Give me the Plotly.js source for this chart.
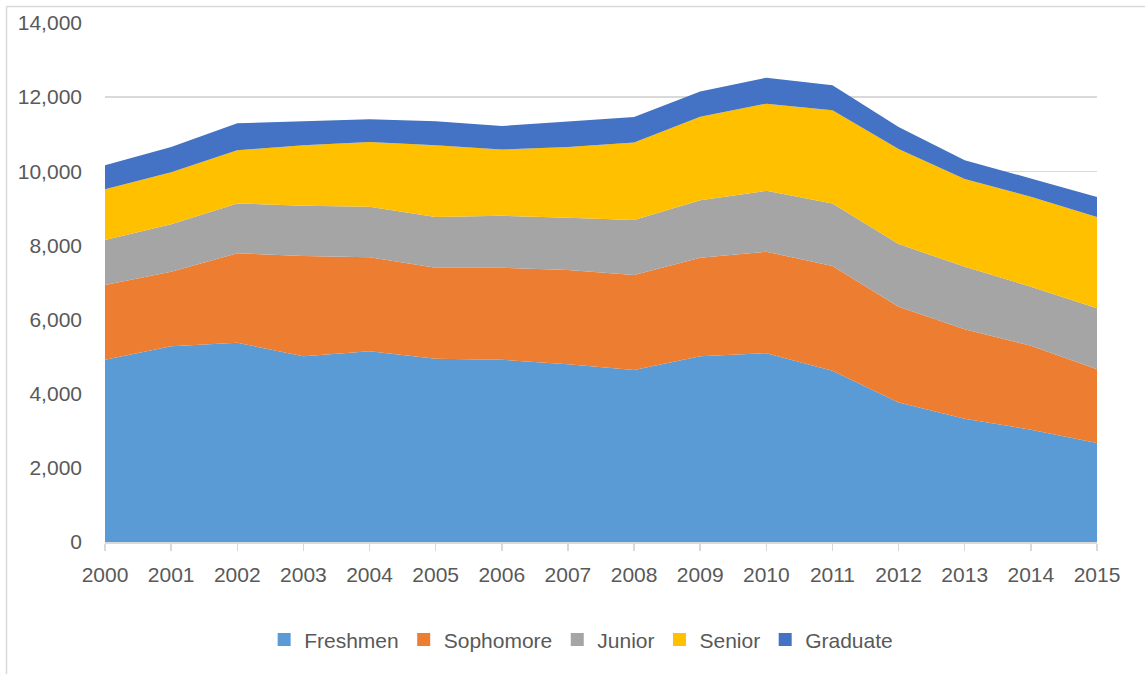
<!DOCTYPE html>
<html>
<head>
<meta charset="utf-8">
<script src="https://cdn.plot.ly/plotly-3.0.1.min.js"></script>
<style>html,body{margin:0;padding:0;background:#fff;}#chart{width:1145px;height:674px;}</style>
</head>
<body>
<div id="chart"></div>
<script>
const years = [2000,2001,2002,2003,2004,2005,2006,2007,2008,2009,2010,2011,2012,2013,2014,2015];
const freshmen  = [4914,5283,5372,5013,5148,4941,4914,4798,4637,5010,5094,4618,3764,3325,3029,2671];
const sophomore = [2019,2008,2415,2701,2531,2459,2486,2539,2565,2658,2736,2827,2585,2415,2262,1992];
const junior    = [1212,1277,1346,1355,1363,1364,1400,1409,1481,1554,1642,1688,1688,1686,1596,1643];
const senior    = [1373,1408,1435,1634,1750,1939,1786,1911,2092,2250,2353,2512,2566,2369,2424,2462];
const graduate  = [647,681,727,646,611,646,637,683,690,680,700,673,593,504,495,538];
const seriesNames = ['Freshmen','Sophomore','Junior','Senior','Graduate'];
const seriesColors = ['#5b9bd5','#ed7d31','#a5a5a5','#ffc000','#4472c4'];
const seriesValues = [freshmen, sophomore, junior, senior, graduate];

const areaTraces = seriesValues.map((vals, i) => ({
  x: years, y: vals, name: seriesNames[i], type: 'scatter', mode: 'none',
  stackgroup: 'one', fillcolor: seriesColors[i], line: {width: 0},
  showlegend: false, legendgroup: seriesNames[i]
}));
// legend-only entries with square swatches
const legendTraces = seriesNames.map((n, i) => ({
  x: [null], y: [null], name: n, type: 'scatter', mode: 'markers',
  marker: {symbol: 'square', size: 13, color: seriesColors[i]},
  showlegend: true, legendgroup: n
}));

const font = {family: 'Liberation Sans, Arial, sans-serif', size: 21, color: '#595959'};
const layout = {
  width: 1145, height: 674,
  margin: {l: 105, r: 48, t: 23, b: 132, autoexpand: false},
  paper_bgcolor: '#fff', plot_bgcolor: '#fff',
  font: font,
  showlegend: true,
  legend: {orientation: 'h', x: 0.48, xanchor: 'center', y: -0.149, yanchor: 'top',
           font: {family: font.family, size: 21, color: '#595959'}, traceorder: 'normal'},
  xaxis: {range: [2000, 2015], tickvals: years, ticktext: years.map(String),
          showgrid: false, zeroline: false, showline: true, linecolor: '#d9d9d9', linewidth: 1.5,
          ticks: 'outside', ticklen: 7, tickcolor: '#d9d9d9', tickwidth: 1.5,
          ticklabelstandoff: 6, tickfont: font, fixedrange: true, automargin: false},
  yaxis: {range: [0, 14000], dtick: 2000, tickformat: ',d', showgrid: true, gridcolor: '#d9d9d9',
          gridwidth: 1.3, zeroline: false, showline: false, ticks: '', ticklabelstandoff: 22,
          tickfont: font, fixedrange: true, automargin: false},
  shapes: [
    {type: 'line', xref: 'paper', yref: 'paper', x0: -0.0993, x1: 1.06, y0: 1.0318, y1: 1.0318,
     line: {color: '#d9d9d9', width: 1.5}},
    {type: 'line', xref: 'paper', yref: 'paper', x0: -0.0993, x1: -0.0993, y0: 1.0318, y1: -0.28,
     line: {color: '#d9d9d9', width: 1.5}}
  ]
};
Plotly.newPlot('chart', areaTraces.concat(legendTraces), layout, {displayModeBar: false, staticPlot: true});
</script>
</body>
</html>
